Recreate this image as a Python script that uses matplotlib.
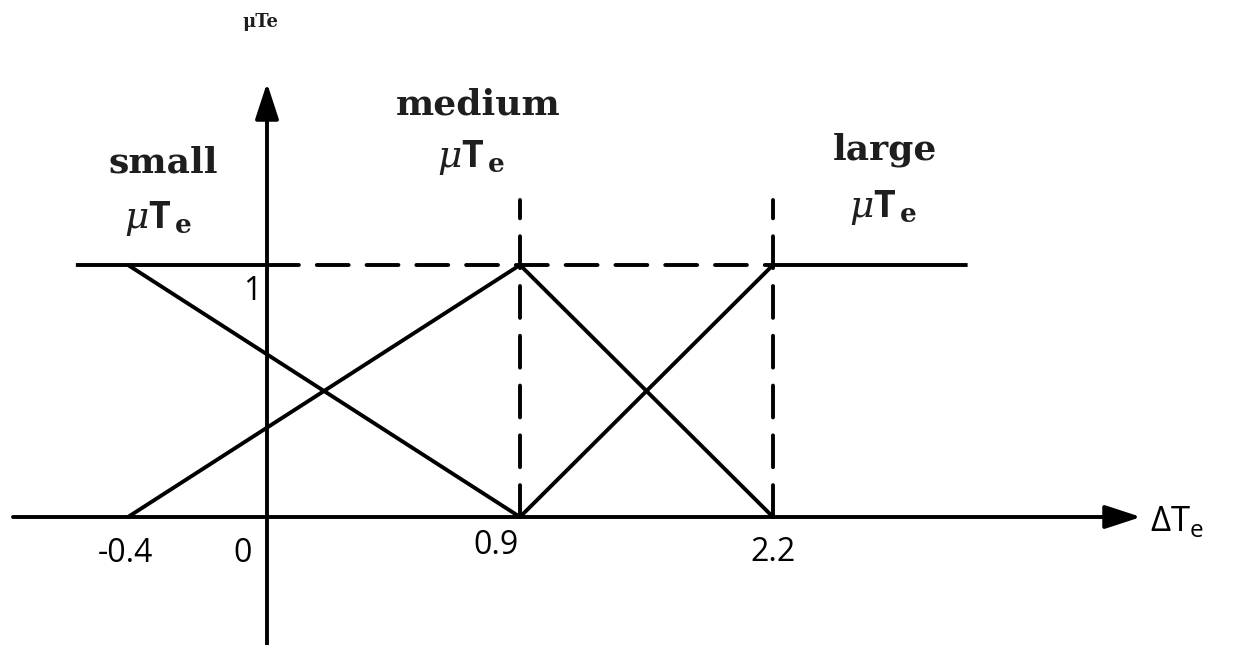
#!/usr/bin/env python3

import numpy as np
import matplotlib
matplotlib.use('Agg')
import matplotlib.pyplot as plt

# breakpoints of the membership functions (Delta T_e) and their labels
breaks = [-0.4, 0.0, 0.9, 2.2]
break_labels = ['-0.4', '0', '0.9', '2.2']

# membership functions
small_x = [-0.55, -0.4, 0.9]
small_mu = [1.0, 1.0, 0.0]
medium_x = [-0.4, 0.9, 2.2]
medium_mu = [0.0, 1.0, 0.0]
large_x = [0.9, 2.2, 3.2]
large_mu = [0.0, 1.0, 1.0]
names = ['small', 'medium', 'large']

# the sketch is not to scale: the breakpoints sit at these pixel columns
knot_px = [128, 267, 520, 773]
y0_px, y1_px = 517, 265   # rows of mu=0 and mu=1
W, H = 1236, 645

slope_lo = (knot_px[1]-knot_px[0])/(breaks[1]-breaks[0])
slope_hi = (knot_px[-1]-knot_px[-2])/(breaks[-1]-breaks[-2])

def fwd(x):
  x = np.asarray(x, dtype=float)
  p = np.interp(x, breaks, knot_px)
  p = np.where(x < breaks[0], knot_px[0] + (x-breaks[0])*slope_lo, p)
  p = np.where(x > breaks[-1], knot_px[-1] + (x-breaks[-1])*slope_hi, p)
  return p

def inv(p):
  p = np.asarray(p, dtype=float)
  x = np.interp(p, knot_px, breaks)
  x = np.where(p < knot_px[0], breaks[0] + (p-knot_px[0])/slope_lo, x)
  x = np.where(p > knot_px[-1], breaks[-1] + (p-knot_px[-1])/slope_hi, x)
  return x

def px(p):   # pixel column -> data x
  return float(inv(p))

def py(p):   # pixel row -> membership
  return (y0_px - p)/(y0_px - y1_px)

fig = plt.figure(figsize=(W/100, H/100), dpi=100)
ax = fig.add_axes([0, 0, 1, 1])
ax.set_xscale('function', functions=(fwd, inv))
ax.set_xlim(px(0), px(W))
ax.set_ylim(py(H), py(0))
ax.axis('off')

lw = 2.8
dash = (0, (8.2, 4.6))

# membership functions
for xs, mus in zip([small_x, medium_x, large_x], [small_mu, medium_mu, large_mu]):
  ax.plot(xs, mus, 'k-', lw=lw, solid_capstyle='butt')

# level 1 guide: solid up to the mu axis, dashed on to the large plateau
ax.plot([breaks[0], breaks[1]], [1, 1], 'k-', lw=lw, solid_capstyle='butt')
ax.plot([breaks[1], breaks[3]], [1, 1], color='k', lw=lw, linestyle=dash, dash_capstyle='round')
for b in breaks[2:]:
  ax.plot([b, b], [0, py(200)], color='k', lw=lw, linestyle=dash, dash_capstyle='round')

# axes with arrows
arr = dict(arrowstyle='-|>,head_length=1.1,head_width=0.36', mutation_scale=20,
           lw=lw, color='k', shrinkA=0, shrinkB=0)
ax.annotate('', xy=(px(1141), 0), xytext=(px(13), 0), arrowprops=arr)
ax.annotate('', xy=(0, py(83)), xytext=(0, py(H+5)), arrowprops=arr)

# tick labels
sans = dict(family='Open Sans', fontsize=23, color='k', ha='center', va='baseline')
lab_px = [(125, 562), (243, 562), (496, 554), (773, 561)]
for lab, (cx, by) in zip(break_labels, lab_px):
  ax.text(px(cx), py(by), lab, **sans)
ax.text(px(261), py(300), '1', family='Open Sans', fontsize=23, color='k', ha='right', va='baseline')

plt.rcParams['mathtext.fontset'] = 'custom'
plt.rcParams['mathtext.rm'] = 'Open Sans'
ax.text(px(1150), py(531), r'ΔT$_{\mathrm{e}}$', family='Open Sans', fontsize=25,
        color='k', ha='left', va='baseline')

# set labels
serif = dict(family='DejaVu Serif', fontweight='bold', fontsize=26, color='#1e1e1e',
             ha='center', va='baseline')
mu_lab = r'$\mu$T$_{\,\mathbf{e}}$'
for name, (nx, ny), (mx, my) in zip(names,
                                    [(163, 173), (478, 115), (885, 160)],
                                    [(158, 228), (471, 167), (883, 217)]):
  ax.text(px(nx), py(ny), name, **serif)
  ax.text(px(mx), py(my), mu_lab, family='Open Sans', fontweight='bold', fontsize=27,
          color='#1e1e1e', ha='center', va='baseline', math_fontfamily='dejavuserif')

ax.text(px(260), py(27), 'μTe', family='DejaVu Serif', fontweight='bold', fontsize=13,
        color='#1e1e1e', ha='center', va='baseline')

fig.savefig('out.png', dpi=100)
